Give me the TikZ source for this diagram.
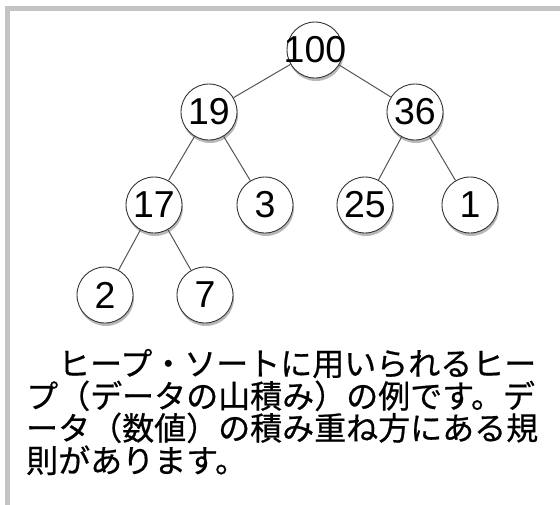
\documentclass[tikz,border=0pt]{standalone}
\usepackage{fontspec}
\setmainfont{Liberation Sans}
\newfontfamily\jpfont[FakeBold=0.6]{Noto Sans CJK JP}
\usetikzlibrary{shadows}
\definecolor{framegray}{HTML}{C4C4C4}
\definecolor{edgegray}{HTML}{555555}
\definecolor{circgray}{HTML}{333333}
\begin{document}
\begin{tikzpicture}[x=1pt,y=-1pt,
  hnode/.style={circle, draw=circgray, line width=0.9pt, fill=white,
    minimum size=56pt, inner sep=0pt, font=\fontsize{37.5}{37.5}\selectfont,
    drop shadow={shadow xshift=1pt, shadow yshift=-3pt, fill=black, opacity=0.28}},
  link/.style={draw=edgegray, line width=1pt},
  jtext/.style={anchor=base west, inner sep=0pt, font=\jpfont\fontsize{32}{32}\selectfont}]
\useasboundingbox (0,0) rectangle (560,504);
\clip (0,0) rectangle (560,504);
\draw[framegray, line width=5.5pt] (7.5,8.5) rectangle (600,600);
% nodes
\node[hnode] (n100) at (315,50) {\makebox[0pt]{100}};
\node[hnode] (n19) at (209,112) {\makebox[0pt]{19}};
\node[hnode] (n36) at (415,112) {\makebox[0pt]{36}};
\node[hnode] (n17) at (154,205) {\makebox[0pt]{17}};
\node[hnode] (n3) at (265,205) {\makebox[0pt]{3}};
\node[hnode] (n25) at (365,205) {\makebox[0pt]{25}};
\node[hnode] (n1) at (470,205) {\makebox[0pt]{1}};
\node[hnode] (n2) at (105,295) {\makebox[0pt]{2}};
\node[hnode] (n7) at (205,295) {\makebox[0pt]{7}};
% edges
\path[link] (n100) -- (n19);
\path[link] (n100) -- (n36);
\path[link] (n19) -- (n17);
\path[link] (n19) -- (n3);
\path[link] (n36) -- (n25);
\path[link] (n36) -- (n1);
\path[link] (n17) -- (n2);
\path[link] (n17) -- (n7);
% text
\node[jtext] (t1) at (26,375.5) {　ヒープ・ソートに用いられるヒー};
\node[jtext] (t2) at (26,408) {プ（データの山積み）の例です。デ};
\node[jtext] (t3) at (26,440) {ータ（数値）の積み重ね方にある規};
\node[jtext] (t4) at (26,472.5) {則があります。};
\end{tikzpicture}
\end{document}
